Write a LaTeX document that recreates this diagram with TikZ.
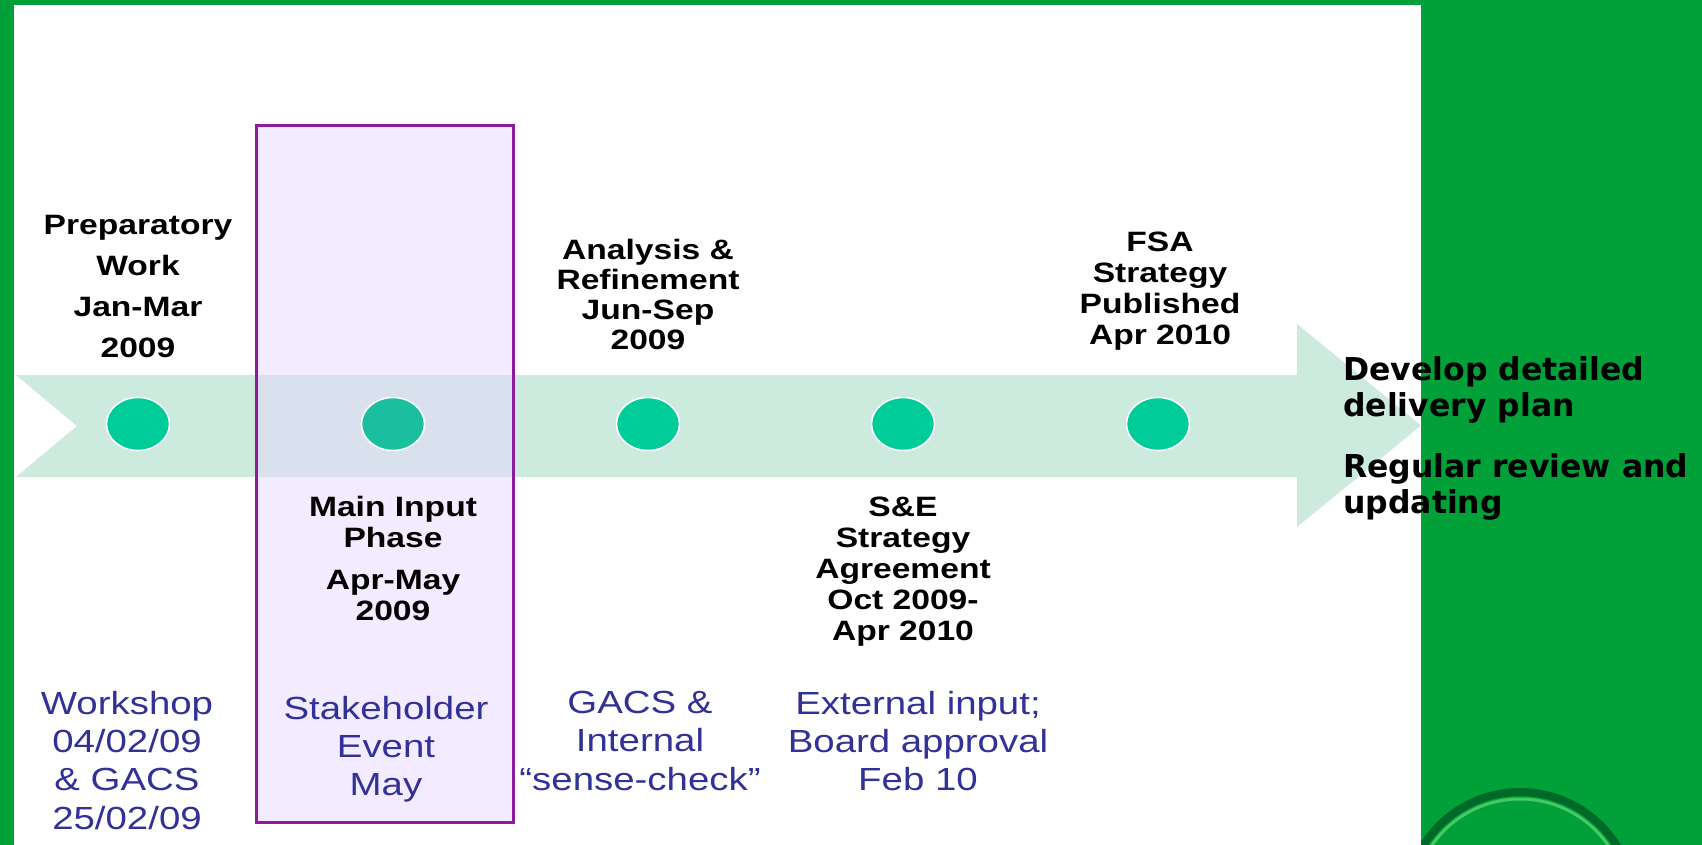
\documentclass[tikz,border=0pt]{standalone}
\usepackage{fontspec}
\usetikzlibrary{shapes.geometric}
\newfontfamily\titlefont[FakeStretch=1.2]{Liberation Sans}
\newfontfamily\bluefont[FakeStretch=1.2]{Liberation Sans}
\newfontfamily\rightfont{DejaVu Sans}
\definecolor{bggreen}{RGB}{2,160,57}
\definecolor{bandcol}{RGB}{204,235,222}
\definecolor{dotcol}{RGB}{0,204,153}
\definecolor{dotboxcol}{RGB}{28,190,160}
\definecolor{boxline}{RGB}{140,26,158}
\definecolor{boxfill}{RGB}{232,216,255}
\definecolor{bluetext}{RGB}{50,50,150}
\definecolor{ringdark}{RGB}{0,105,40}
\definecolor{ringlight}{RGB}{70,200,100}
\begin{document}
\begin{tikzpicture}[x=1pt,y=-1pt,
  titletext/.style={anchor=north, align=center, inner sep=0pt, text=black},
  bluelabel/.style={anchor=north, align=center, inner sep=0pt, text=bluetext,
     font=\bluefont\fontsize{32}{38.3}\selectfont},
  dotnode/.style={ellipse, fill=dotcol, draw=white, line width=1.5pt,
     minimum width=63pt, minimum height=53pt, inner sep=0pt},
  righttext/.style={anchor=north west, align=left, inner sep=0pt, text=black,
     font=\rightfont\bfseries\fontsize{31.5}{36}\selectfont}]
\useasboundingbox (0,0) rectangle (1702,845);
% background
\fill[bggreen] (0,0) rectangle (1702,845);
\fill[white] (14,5) rectangle (1421,845);
% logo ring
\begin{scope}
  \clip (1421,0) rectangle (1702,845);
  \draw[ringdark, line width=8pt] (1520,906) circle (114);
  \draw[ringlight, line width=3pt] (1520,906) circle (107);
\end{scope}
% arrow
\fill[bandcol] (16,375) -- (1297,375) -- (1297,324) -- (1421,425.5) -- (1297,527)
   -- (1297,477) -- (16,477) -- (77,426) -- cycle;
% purple box fill
\fill[boxfill, fill opacity=0.5] (256,126) rectangle (513,822);
% dots
\node[dotnode] (d1) at (138,424) {};
\node[dotnode, fill=dotboxcol] (d2) at (393,424) {};
\node[dotnode] (d3) at (648,424) {};
\node[dotnode] (d4) at (903,424) {};
\node[dotnode] (d5) at (1158,424) {};
% purple box outline
\node[draw=boxline, line width=3pt, inner sep=0pt, minimum width=257pt,
  minimum height=696pt] (box) at (384.5,474) {};
% titles
\node[titletext, font=\titlefont\bfseries\fontsize{28}{41}\selectfont] (t1) at (138,215)
  {Preparatory\\Work\\Jan-Mar\\2009};
\node[titletext, font=\titlefont\bfseries\fontsize{28}{31}\selectfont] (t2) at (393,496)
  {Main Input\\Phase\\[11pt]Apr-May\\2009};
\node[titletext, font=\titlefont\bfseries\fontsize{28}{30}\selectfont] (t3) at (648,239)
  {Analysis \&\\Refinement\\Jun-Sep\\2009};
\node[titletext, font=\titlefont\bfseries\fontsize{28}{31}\selectfont] (t4) at (903,497)
  {S\&E\\Strategy\\Agreement\\Oct 2009-\\Apr 2010};
\node[titletext, font=\titlefont\bfseries\fontsize{28}{31}\selectfont] (t5) at (1160,232)
  {FSA\\Strategy\\Published\\Apr 2010};
% blue labels
\node[bluelabel] (b1) at (127,691) {Workshop\\04/02/09\\\& GACS\\25/02/09};
\node[bluelabel] (b2) at (386,696) {Stakeholder\\Event\\May};
\node[bluelabel] (b3) at (640,691) {GACS \&\\Internal\\“sense-check”};
\node[bluelabel] (b4) at (918,691) {External input;\\Board approval\\Feb 10};
% right texts
\node[righttext] (r1) at (1343,356) {Develop detailed\\delivery plan};
\node[righttext] (r2) at (1343,453) {Regular review and\\updating};
\end{tikzpicture}
\end{document}
